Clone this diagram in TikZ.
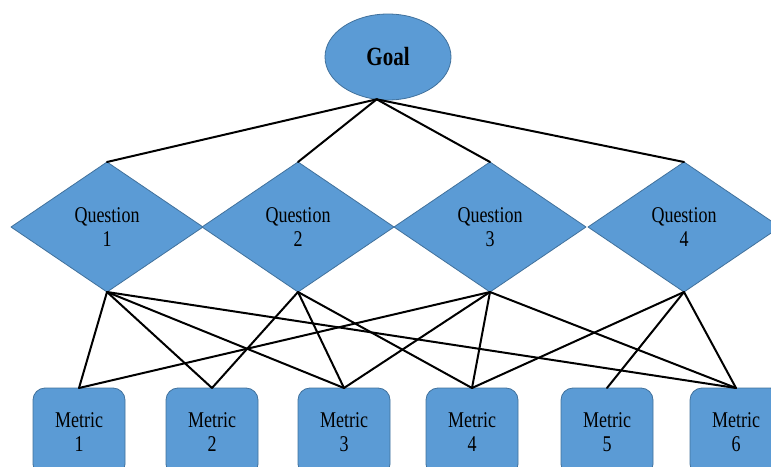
\documentclass[tikz,border=0pt]{standalone}
\usepackage{fontspec}
\setmainfont{Liberation Serif}
\usetikzlibrary{shapes.geometric}
\definecolor{qblue}{HTML}{5B9BD5}
\definecolor{qedge}{HTML}{41719C}
\newcommand{\tallt}[1]{\scalebox{1}[1.25]{#1}}
\begin{document}
\begin{tikzpicture}[x=0.5pt,y=-0.5pt,font=\fontsize{9}{12}\selectfont,line join=round,line cap=round,
  box/.style={fill=qblue,draw=qedge,line width=0.4pt,outer sep=0pt,inner sep=0pt,align=center},
  qnode/.style={box,diamond,minimum width=96pt,minimum height=65pt,aspect=1.48},
  mnode/.style={box,rectangle,rounded corners=6pt,minimum width=46pt,minimum height=44pt},
  link/.style={line width=1pt}]
  \useasboundingbox (0,0) rectangle (771,466);
  \clip (0,0) rectangle (771,466);
  \node[box,ellipse,minimum width=63pt,minimum height=43pt,font=\fontsize{10.5}{12}\selectfont\bfseries] (g) at (388,57) {\tallt{Goal}};
  \foreach \i/\x in {1/107,2/298,3/490,4/684}
    \node[qnode] (q\i) at (\x,227) {\tallt{Question}\\\tallt{\i}};
  \foreach \i/\x in {1/79,2/212,3/344,4/472,5/607,6/736}
    \node[mnode] (m\i) at (\x,432) {\tallt{Metric}\\\tallt{\i}};
  % goal to questions
  \foreach \i in {1,...,4} \draw[link] (g.255) -- (q\i.north);
  % questions to metrics
  \foreach \a/\b in {1/1,1/2,1/3,1/6,2/2,2/3,2/4,3/1,3/3,3/4,3/6,4/4,4/5,4/6}
    \draw[link] (q\a.south) -- (m\b.north);
\end{tikzpicture}
\end{document}
